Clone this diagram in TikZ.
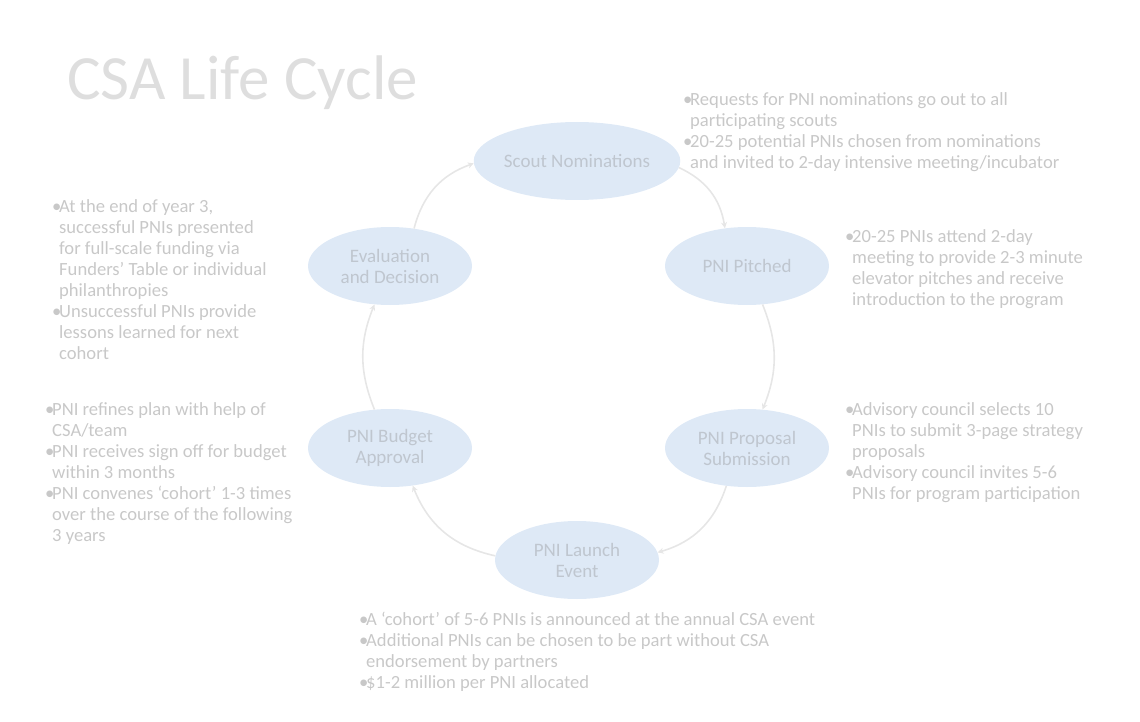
\documentclass[tikz,border=0pt]{standalone}
\usepackage{fontspec}
\setmainfont{Carlito}
\usetikzlibrary{arrows.meta,shapes.geometric}
\definecolor{ellfill}{HTML}{DEE9F6}
\definecolor{elltext}{HTML}{BFC6CF}
\definecolor{bodytext}{HTML}{C8C8C8}
\definecolor{titletext}{HTML}{DEDEDE}
\definecolor{linkcol}{HTML}{E6E6E6}
\tikzset{
  stage/.style={ellipse, fill=ellfill, minimum width=164pt, minimum height=78pt, inner sep=0pt,
    text=elltext, align=center, font=\fontsize{19}{21}\selectfont},
  notes/.style={anchor=north west, inner sep=0pt, text=bodytext, align=left,
    font=\fontsize{18.6}{21}\selectfont},
  link/.style={draw=linkcol, line width=1.6pt, -{Stealth[length=6pt,width=6pt]}}
}
\newcommand{\bitem}[1]{\makebox[7pt][l]{\textbullet}#1}
\newcommand{\bcont}[1]{\hspace*{7pt}#1}
\begin{document}
\begin{tikzpicture}[x=1pt,y=-1pt]
\useasboundingbox (0,0) rectangle (1140,722);
\node[anchor=base west, inner sep=0pt, text=titletext, font=\fontsize{63}{63}\selectfont] (title) at (67,100) {CSA Life Cycle};

\node[stage] (nom) at (577,161) {Scout Nominations};
\node[stage] (pit) at (747,266) {PNI Pitched};
\node[stage] (pro) at (747,448) {PNI Proposal\\Submission};
\node[stage] (lau) at (577,560) {PNI Launch\\Event};
\node[stage] (bud) at (390,448) {PNI Budget\\Approval};
\node[stage] (eva) at (390,266) {Evaluation\\and Decision};

\draw[link] (nom) to[bend left=28] (pit);
\draw[link] (pit) to[bend left=22] (pro);
\draw[link] (pro) to[bend left=28] (lau);
\draw[link] (lau) to[bend left=28] (bud);
\draw[link] (bud) to[bend left=22] (eva);
\draw[link] (eva) to[bend left=28] (nom);

\node[notes] (n1) at (683,92) {\bitem{Requests for PNI nominations go out to all}\\
\bcont{participating scouts}\\
\bitem{20-25 potential PNIs chosen from nominations}\\
\bcont{and invited to 2-day intensive meeting/incubator}};

\node[notes] (n2) at (845,229) {\bitem{20-25 PNIs attend 2-day}\\
\bcont{meeting to provide 2-3 minute}\\
\bcont{elevator pitches and receive}\\
\bcont{introduction to the program}};

\node[notes] (n3) at (845,402) {\bitem{Advisory council selects 10}\\
\bcont{PNIs to submit 3-page strategy}\\
\bcont{proposals}\\
\bitem{Advisory council invites 5-6}\\
\bcont{PNIs for program participation}};

\node[notes] (n4) at (359,612) {\bitem{A `cohort' of 5-6 PNIs is announced at the annual CSA event}\\
\bitem{Additional PNIs can be chosen to be part without CSA}\\
\bcont{endorsement by partners}\\
\bitem{\$1-2 million per PNI allocated}};

\node[notes] (n5) at (52,199) {\bitem{At the end of year 3,}\\
\bcont{successful PNIs presented}\\
\bcont{for full-scale funding via}\\
\bcont{Funders' Table or individual}\\
\bcont{philanthropies}\\
\bitem{Unsuccessful PNIs provide}\\
\bcont{lessons learned for next}\\
\bcont{cohort}};

\node[notes] (n6) at (45,402) {\bitem{PNI refines plan with help of}\\
\bcont{CSA/team}\\
\bitem{PNI receives sign off for budget}\\
\bcont{within 3 months}\\
\bitem{PNI convenes `cohort' 1-3 times}\\
\bcont{over the course of the following}\\
\bcont{3 years}};
\end{tikzpicture}
\end{document}
